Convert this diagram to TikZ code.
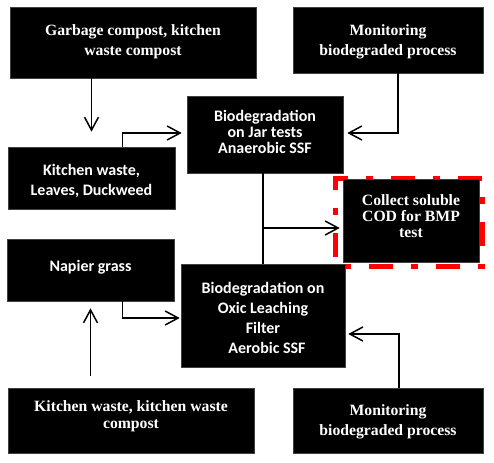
\documentclass[tikz,border=0pt]{standalone}
\usepackage{fontspec}
\setmainfont{Liberation Serif}
\newfontfamily\calfont{Carlito}
\usetikzlibrary{arrows.meta}
\begin{document}
\begin{tikzpicture}[x=1pt,y=-1pt,
  box/.style={draw=black!75, fill=black, line width=0.6pt, inner sep=0pt},
  serift/.style={text=white, align=center, font=\bfseries\fontsize{15.7}{20}\selectfont, inner sep=0pt},
  sanst/.style={text=white, align=center, font=\calfont\bfseries\fontsize{16}{20}\selectfont, inner sep=0pt},
  conn/.style={line width=1.5pt, -{Straight Barb[length=13pt,width=14pt,line width=1.5pt]}},
  plainconn/.style={line width=1.5pt},
  redbox/.style={draw=red, line width=5.5pt, dash pattern=on 24pt off 18pt on 7pt off 18pt}
  ]
\useasboundingbox (0,0) rectangle (494,462);
\fill[white] (0,0) rectangle (494,462);

% boxes
\node[box, minimum width=246pt, minimum height=71pt] (A) at (133,42.5) {};
\node[box, minimum width=190pt, minimum height=66pt] (B) at (388,40) {};
\node[box, minimum width=156pt, minimum height=77pt] (C) at (265,134.5) {};
\node[box, minimum width=167pt, minimum height=62pt] (D) at (91.5,178) {};
\draw[redbox] (482,178.5) -- (335.5,178.5) -- (335.5,266.5) -- (482,266.5) -- cycle;
\node[box, minimum width=136pt, minimum height=83pt] (E) at (411,220.5) {};
\node[box, minimum width=167pt, minimum height=62pt] (F) at (90.5,270) {};
\node[box, minimum width=164pt, minimum height=103pt] (G) at (263,315.5) {};
\node[box, minimum width=246pt, minimum height=65pt] (H) at (131,420.5) {};
\node[box, minimum width=190pt, minimum height=65pt] (I) at (388,420.5) {};

% texts
\node[serift] (At) at (133,41.5) {Garbage compost, kitchen\\waste compost};
\node[serift] (Bt) at (388,41.5) {Monitoring\\biodegraded process};
\node[sanst, font=\calfont\bfseries\fontsize{16}{16}\selectfont] (Ct) at (265,132) {Biodegradation\\on Jar tests\\Anaerobic SSF};
\node[sanst] (Dt) at (91.5,180.5) {Kitchen waste,\\Leaves, Duckweed};
\node[serift, font=\bfseries\fontsize{15.7}{16}\selectfont] (Et) at (411,216.5) {Collect soluble\\COD for BMP\\test};
\node[sanst] (Ft) at (90.5,267.5) {Napier grass};
\node[sanst] (Gt) at (263,318) {Biodegradation on\\Oxic Leaching\\Filter\\\hspace*{8pt}Aerobic SSF};
\node[serift, font=\bfseries\fontsize{15.7}{16.5}\selectfont] (Ht) at (131,416) {Kitchen waste, kitchen waste\\compost};
\node[serift] (It) at (388,421.5) {Monitoring\\biodegraded process};

% connectors
\draw[conn, shorten >=15pt] (A.south -| D.north) -- (D.north);
\draw[conn, shorten >=5pt] ([xshift=115pt]D.north west) |- ([yshift=1.5pt]C.west);
\draw[conn, shorten >=4pt] ([xshift=10pt]B.south) |- ([yshift=1.5pt]C.east);
\draw[plainconn] (G.north |- C.south) -- (G.north);
\coordinate (J) at (263,228);
\draw[conn, shorten >=3pt] (J) -- (J -| E.west);
\draw[conn, shorten >=1pt] ([xshift=116pt]F.south west) |- ([yshift=-2.5pt]G.west);
\draw[conn, shorten <=12pt, shorten >=7pt] (H.north -| F.south) -- (F.south);
\draw[conn, shorten >=3pt] ([xshift=11pt]I.north) |- ([yshift=-18.5pt]G.east);
\end{tikzpicture}
\end{document}
